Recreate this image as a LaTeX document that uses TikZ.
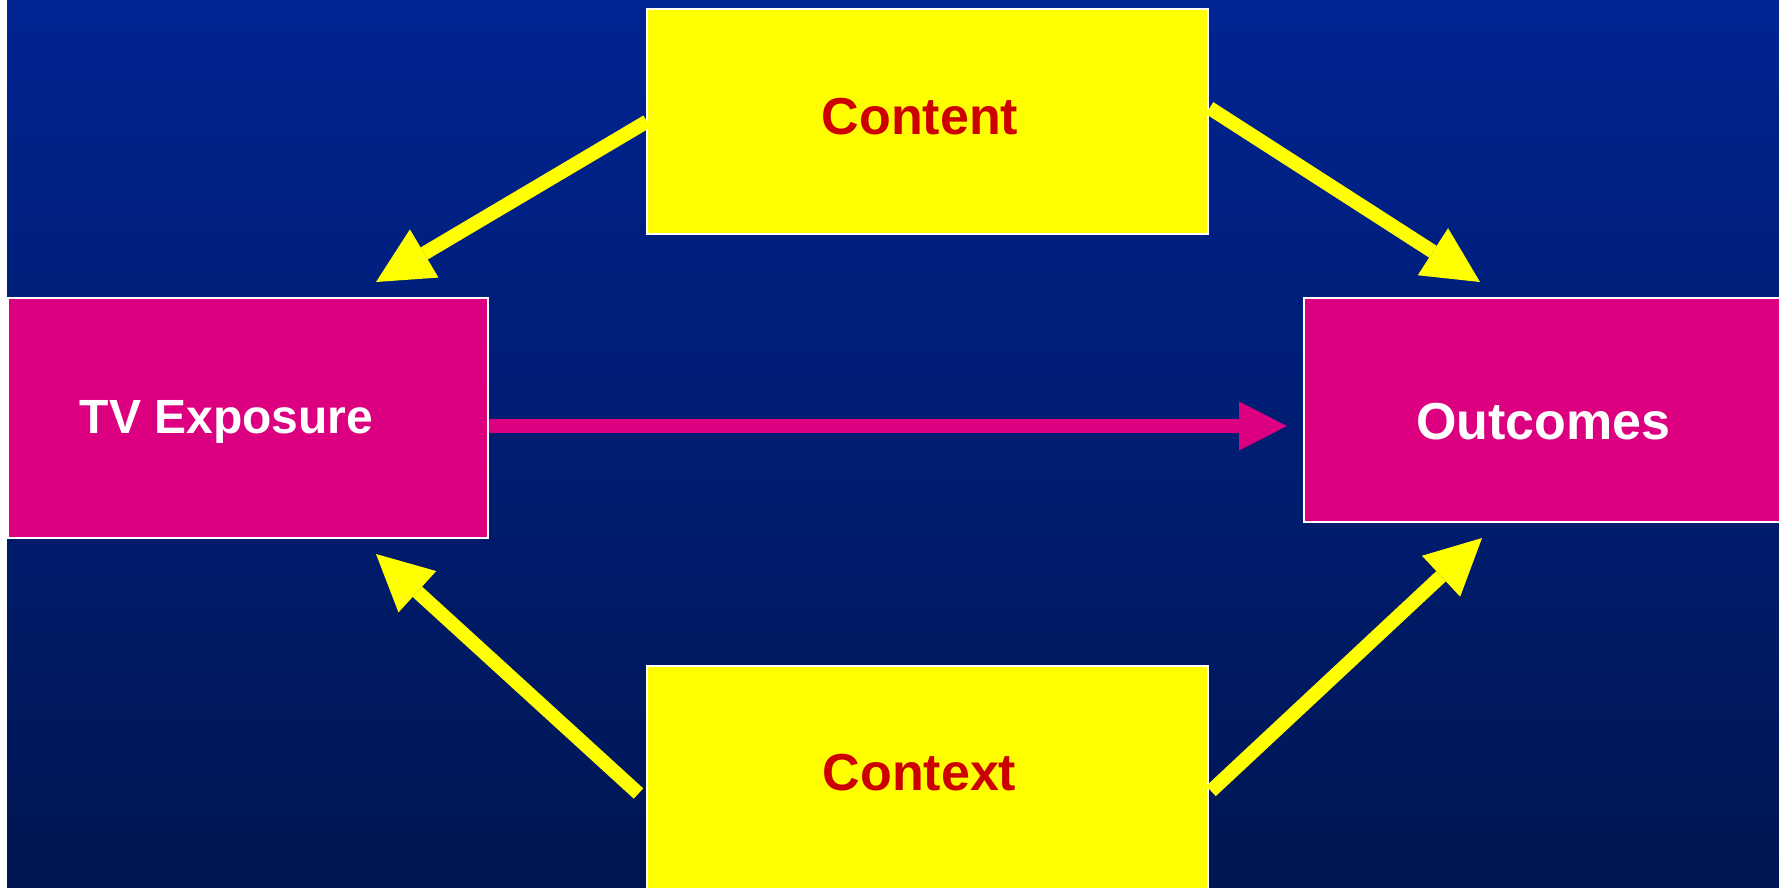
\documentclass[tikz,border=0pt]{standalone}
\usepackage{fontspec}
\setmainfont{Liberation Sans}
\usetikzlibrary{arrows.meta,calc}
\definecolor{bgtop}{RGB}{0,36,146}
\definecolor{bgbot}{RGB}{0,22,82}
\definecolor{mag}{RGB}{220,0,128}
\definecolor{txtred}{RGB}{204,0,0}
\definecolor{yel}{RGB}{255,255,0}
\begin{document}
\begin{tikzpicture}[x=1pt,y=-1pt,
  box/.style={draw=white, line width=2pt, inner sep=0pt, outer sep=0pt, text depth=0pt},
  ybox/.style={box, fill=yel, text=txtred, font=\bfseries\fontsize{52}{60}\selectfont, text height=37.2pt},
  pbox/.style={box, fill=mag, text=white},
  yarrow/.style={draw=yel, line width=14pt, -{Triangle[length=56pt,width=56pt,line width=0pt]}},
  parrow/.style={draw=mag, line width=13.5pt, -{Triangle[length=48pt,width=49pt,line width=0pt]}}
]
\useasboundingbox (0,0) rectangle (1779,887);
\fill[white] (0,0) rectangle (1779,887);
\shade[top color=bgtop, bottom color=bgbot] (7,0) rectangle (1779,887);

\node[ybox, minimum width=561pt, minimum height=225pt] (content) at (927.5,121.5)
  {\raisebox{6pt}{Content}\hspace*{15pt}};
\node[ybox, minimum width=561pt, minimum height=234pt] (context) at (927.5,783)
  {\raisebox{11pt}{Context}\hspace*{16pt}};
\node[pbox, minimum width=480pt, minimum height=240pt, font=\bfseries\fontsize{48}{56}\selectfont, text height=34.4pt] (tv) at (248,418)
  {\raisebox{1.5pt}{TV Exposure}\hspace*{43pt}};
\node[pbox, minimum width=479pt, minimum height=224pt, font=\bfseries\fontsize{52}{60}\selectfont, text height=37.2pt] (out) at (1543.5,410)
  {\raisebox{-10.5pt}{Outcomes}};

\coordinate (t1) at (376,282);
\coordinate (t2) at (1480,282);
\coordinate (t3) at (376,554);
\coordinate (t4) at (1482,538);
\coordinate (t5) at (1287,426);

\draw[yarrow] (content.west) -- (t1);
\draw[yarrow] ($(content.east)+(1.5,-13.5)$) -- (t2);
\draw[yarrow] ($(context.west)+(-8.5,10.5)$) -- (t3);
\draw[yarrow] ($(context.east)+(3,8)$) -- (t4);
\draw[parrow] ($(tv.east)+(1,8)$) -- (t5);
\end{tikzpicture}
\end{document}
